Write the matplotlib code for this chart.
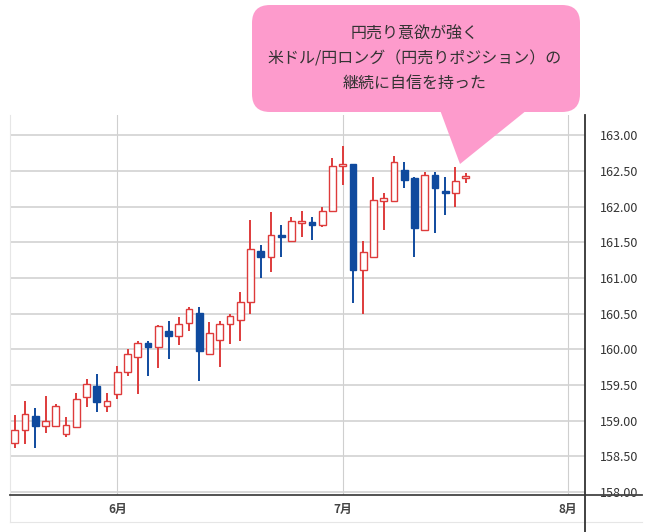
import matplotlib
matplotlib.use("Agg")
import matplotlib.pyplot as plt
from matplotlib.patches import FancyBboxPatch, Polygon
import numpy as np

plt.rcParams['font.family'] = ['Noto Sans CJK JP', 'DejaVu Sans']

# daily candles (USD/JPY)
opens = [158.68, 158.87, 159.06, 158.93, 158.93, 158.81, 158.91, 159.33, 159.49, 159.20,
         159.37, 159.68, 159.89, 160.09, 160.03, 160.25, 160.19, 160.37, 160.51, 159.94,
         160.13, 160.35, 160.41, 160.66, 161.38, 161.30, 161.60, 161.52, 161.77, 161.78,
         161.74, 161.94, 162.57, 162.60, 161.11, 161.29, 162.08, 162.08, 162.51, 162.40,
         161.68, 162.44, 162.21, 162.19, 162.40]
highs = [159.08, 159.27, 159.18, 159.35, 159.23, 159.05, 159.39, 159.59, 159.65, 159.39,
         159.77, 160.00, 160.11, 160.11, 160.34, 160.40, 160.46, 160.59, 160.60, 160.39,
         160.40, 160.50, 160.81, 161.82, 161.46, 161.93, 161.74, 161.85, 161.94, 161.86,
         161.99, 162.68, 162.85, 162.60, 161.52, 162.42, 162.19, 162.71, 162.62, 162.42,
         162.49, 162.49, 162.42, 162.55, 162.47]
lows = [158.61, 158.67, 158.61, 158.83, 158.92, 158.77, 158.89, 159.19, 159.12, 159.12,
        159.31, 159.62, 159.38, 159.62, 159.74, 159.86, 160.06, 160.25, 159.56, 159.93,
        159.75, 160.07, 160.12, 160.49, 161.00, 161.08, 161.29, 161.50, 161.57, 161.54,
        161.72, 161.92, 162.30, 160.65, 160.50, 161.29, 161.68, 162.08, 162.26, 161.29,
        161.67, 161.63, 161.89, 161.99, 162.33]
closes = [158.87, 159.09, 158.93, 159.00, 159.20, 158.94, 159.31, 159.52, 159.26, 159.28,
          159.68, 159.93, 160.09, 160.03, 160.33, 160.18, 160.36, 160.57, 159.97, 160.23,
          160.35, 160.47, 160.66, 161.41, 161.30, 161.60, 161.57, 161.80, 161.80, 161.74,
          161.94, 162.57, 162.60, 161.11, 161.36, 162.09, 162.12, 162.63, 162.38, 161.70,
          162.44, 162.26, 162.19, 162.36, 162.43]

month_labels = ["6月", "7月", "8月"]
month_idx = [10, 32, 54]
price_ticks = [158.0, 158.5, 159.0, 159.5, 160.0, 160.5, 161.0, 161.5, 162.0, 162.5, 163.0]

note_lines = ["円売り意欲が強く", "米ドル/円ロング（円売りポジション）の", "継続に自信を持った"]

UP = "#de3b3b"
DOWN = "#0f4a9e"
W, H = 646, 532

fig = plt.figure(figsize=(W / 100, H / 100), dpi=100)
ax = fig.add_axes([10 / W, 1 - 495 / H, 575 / W, 380 / H])

x = np.arange(len(opens))
o = np.array(opens); c = np.array(closes)
up = c >= o
cols = np.where(up, UP, DOWN)

ax.vlines(x, lows, highs, colors=cols, lw=1.4, zorder=2)
bottom = np.minimum(o, c)
height = np.maximum(np.abs(c - o), 0.025)
ax.bar(x[up], height[up], bottom=bottom[up], width=0.66, facecolor="white",
       edgecolor=UP, linewidth=1.0, zorder=3)
ax.bar(x[~up], height[~up], bottom=bottom[~up], width=0.66, facecolor=DOWN,
       edgecolor=DOWN, linewidth=1.0, zorder=3)

ax.set_xlim(-0.47, 55.65)
ax.set_ylim(157.957, 163.286)
ax.set_yticks(price_ticks, [f"{v:.2f}" for v in price_ticks])
ax.set_xticks(month_idx, month_labels)
ax.yaxis.tick_right()
ax.tick_params(axis="y", length=0, pad=11, labelsize=9, labelcolor="#333333")
ax.tick_params(axis="x", length=0, pad=6, labelsize=8.5, labelcolor="#444444")
for t in ax.get_xticklabels():
    t.set_fontweight("bold")
ax.grid(axis="y", color="#d2d2d2", lw=1.2, zorder=0)
ax.grid(axis="x", color="#cfcfcf", lw=0.8, zorder=0)
for s in ax.spines.values():
    s.set_visible(False)

# overlay in pixel units for the frame lines and the speech bubble
ov = fig.add_axes([0, 0, 1, 1], facecolor="none")
ov.set_xlim(0, W); ov.set_ylim(H, 0); ov.axis("off")
ov.plot([10, 10], [115, 522], color="#e6e6e6", lw=0.8)
ov.plot([10, 642], [522, 522], color="#e6e6e6", lw=0.8)
ov.plot([10, 642], [495, 495], color="#444444", lw=1.3)
ov.plot([585, 585], [115, 532], color="#333333", lw=1.3)

pink = "#fd9bcc"
ov.add_patch(FancyBboxPatch((252, 5), 328, 107, boxstyle="round,pad=0,rounding_size=18",
                            facecolor=pink, edgecolor="none", zorder=5))
ov.add_patch(Polygon([(440, 110), (527, 110), (460, 164)], closed=True,
                     facecolor=pink, edgecolor="none", zorder=5))
for k, line in enumerate(note_lines):
    ov.text(415, 34 + k * 24.5, line, ha="center", va="center", fontsize=11.5,
            color="#333333", zorder=6)

fig.savefig("out.png", dpi=100)
